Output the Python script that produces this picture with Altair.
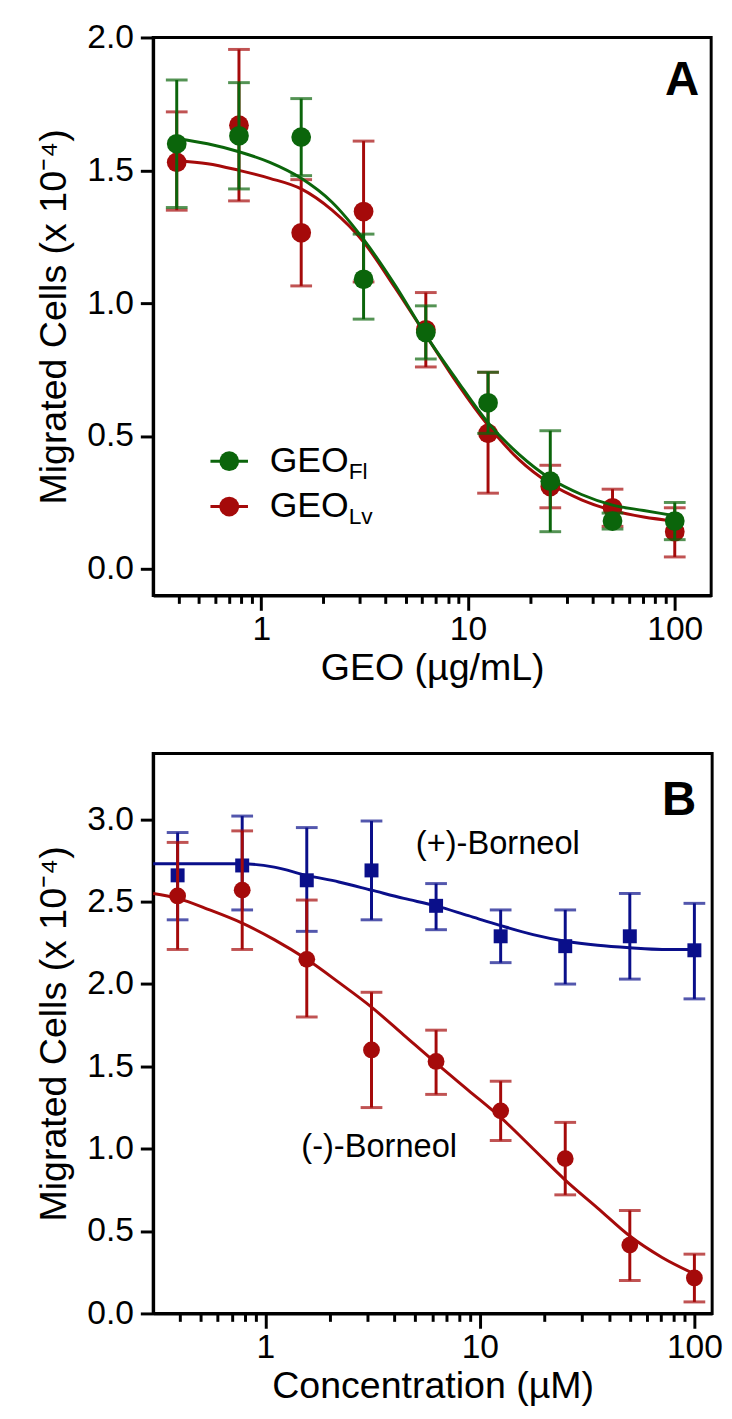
import altair as alt
import pandas as pd

# ---------------- data ----------------
conc = [0.39, 0.78, 1.56, 3.125, 6.25, 12.5, 25, 50, 100]

# Panel A : GEO_Fl (green) and GEO_Lv (red)
fl_mean = [1.60, 1.63, 1.625, 1.09, 0.89, 0.625, 0.33, 0.18, 0.18]
fl_hi = [1.84, 1.83, 1.77, 1.26, 0.99, 0.74, 0.52, 0.21, 0.25]
fl_lo = [1.36, 1.43, 1.48, 0.94, 0.79, 0.51, 0.14, 0.15, 0.11]

lv_mean = [1.53, 1.67, 1.265, 1.345, 0.90, 0.51, 0.31, 0.23, 0.14]
lv_hi = [1.72, 1.955, 1.465, 1.61, 1.04, 0.74, 0.39, 0.30, 0.23]
lv_lo = [1.35, 1.385, 1.065, 1.08, 0.76, 0.285, 0.23, 0.16, 0.045]

fit_x_a = [0.39, 0.55, 0.78, 1.1, 1.56, 2.2, 3.125, 4.42, 6.25, 8.84, 12.5, 17.7, 25, 35.4, 50, 70.7, 100]
fl_fit = [1.62, 1.60, 1.57, 1.53, 1.47, 1.38, 1.24, 1.07, 0.88, 0.71, 0.55, 0.43, 0.34, 0.28, 0.24, 0.22, 0.20]
lv_fit = [1.535, 1.525, 1.50, 1.47, 1.43, 1.35, 1.23, 1.06, 0.88, 0.70, 0.54, 0.41, 0.32, 0.26, 0.22, 0.195, 0.18]

# Panel B : (+)-Borneol (blue squares) and (-)-Borneol (red circles)
plus_mean = [2.66, 2.72, 2.63, 2.69, 2.475, 2.29, 2.23, 2.29, 2.205]
plus_hi = [2.92, 3.02, 2.95, 2.99, 2.61, 2.45, 2.45, 2.55, 2.49]
plus_lo = [2.39, 2.45, 2.32, 2.39, 2.33, 2.13, 2.00, 2.03, 1.91]

minus_mean = [2.535, 2.57, 2.15, 1.60, 1.53, 1.23, 0.94, 0.415, 0.215]
minus_hi = [2.86, 2.93, 2.51, 1.95, 1.72, 1.41, 1.16, 0.625, 0.36]
minus_lo = [2.21, 2.21, 1.80, 1.25, 1.33, 1.05, 0.72, 0.20, 0.07]

fit_x_b = [0.3, 0.39, 0.55, 0.78, 1.1, 1.56, 2.2, 3.125, 4.42, 6.25, 8.84, 12.5, 17.7, 25, 35.4, 50, 70.7, 100]
plus_fit = [2.73, 2.73, 2.73, 2.73, 2.71, 2.66, 2.62, 2.57, 2.52, 2.475, 2.415, 2.355, 2.30, 2.26, 2.235, 2.22, 2.21, 2.21]
minus_fit = [2.55, 2.52, 2.45, 2.37, 2.27, 2.15, 2.01, 1.86, 1.69, 1.52, 1.355, 1.19, 1.00, 0.81, 0.64, 0.47, 0.34, 0.24]

x_ticks_a = [0.4, 0.5, 0.6, 0.7, 0.8, 0.9, 1, 2, 3, 4, 5, 6, 7, 8, 9, 10,
             20, 30, 40, 50, 60, 70, 80, 90, 100]
x_ticks_b = x_ticks_a
y_ticks_a = [0.0, 0.5, 1.0, 1.5, 2.0]
y_ticks_b = [0.0, 0.5, 1.0, 1.5, 2.0, 2.5, 3.0]

GREEN = "#0b650b"
RED = "#a50a0a"
BLUE = "#0a0f8a"
FONT = "Liberation Sans"

W = 565
HA = 565
HB = 567

TICK_FS = 34
TITLE_FS = 38


def x_enc(field, domain, ticks, title):
    major = "datum.value == 1 || datum.value == 10 || datum.value == 100"
    return alt.X(
        f"{field}:Q",
        scale=alt.Scale(type="log", domain=domain, nice=False),
        axis=alt.Axis(
            values=ticks,
            title=title,
            labelExpr=f"({major}) ? format(datum.value, 'd') : ''",
            labelOverlap=False,
            labelFlush=False,
            tickSize={"condition": {"test": major, "value": 15}, "value": 8},
            tickWidth=3,
            domainWidth=3,
            domainColor="black",
            tickColor="black",
            labelFont=FONT,
            labelFontSize=TICK_FS,
            labelColor="black",
            labelPadding=3,
            titleFont=FONT,
            titleFontSize=TITLE_FS,
            titleFontWeight="normal",
            titleColor="black",
            titlePadding=3,
            grid=False,
        ),
    )


def y_enc(field, domain, ticks):
    return alt.Y(
        f"{field}:Q",
        scale=alt.Scale(domain=domain, nice=False, zero=False),
        axis=alt.Axis(
            values=ticks,
            format=".1f",
            title="Migrated Cells (x 10⁻⁴)",
            tickSize=13,
            tickWidth=3,
            domainWidth=3,
            domainColor="black",
            tickColor="black",
            labelFont=FONT,
            labelFontSize=TICK_FS,
            labelColor="black",
            labelPadding=7,
            titleFont=FONT,
            titleFontSize=TITLE_FS,
            titleFontWeight="normal",
            titleColor="black",
            titlePadding=14,
            grid=False,
        ),
    )


def series_layers(xs, mean, lo, hi, fx, fy, color, shape, size, xd, xt, xtitle, yd, yt):
    pts = pd.DataFrame({"x": xs, "m": mean, "lo": lo, "hi": hi})
    fit = pd.DataFrame({"x": fx, "m": fy})
    X = x_enc("x", xd, xt, xtitle)
    rule = alt.Chart(pts).mark_rule(color=color, strokeWidth=3).encode(
        x=X, y=y_enc("lo", yd, yt), y2="hi:Q")
    cap_hi = alt.Chart(pts).mark_tick(color=color, orient="horizontal", size=22, thickness=3).encode(
        x=X, y=y_enc("hi", yd, yt))
    cap_lo = alt.Chart(pts).mark_tick(color=color, orient="horizontal", size=22, thickness=3).encode(
        x=X, y=y_enc("lo", yd, yt))
    line = alt.Chart(fit).mark_line(color=color, strokeWidth=3, interpolate="monotone").encode(
        x=X, y=y_enc("m", yd, yt))
    point = alt.Chart(pts).mark_point(color=color, filled=True, opacity=1, shape=shape, size=size).encode(
        x=X, y=y_enc("m", yd, yt))
    return [rule, cap_hi, cap_lo, line, point]


# ---------------- Panel A ----------------
xdA = [0.3, 150]
ydA = [-0.1, 2.0]
xtitleA = "GEO (µg/mL)"
layersA = []
layersA += series_layers(conc, lv_mean, lv_lo, lv_hi, fit_x_a, lv_fit, RED, "circle", 400,
                         xdA, x_ticks_a, xtitleA, ydA, y_ticks_a)
layersA += series_layers(conc, fl_mean, fl_lo, fl_hi, fit_x_a, fl_fit, GREEN, "circle", 400,
                         xdA, x_ticks_a, xtitleA, ydA, y_ticks_a)

legend_items = [("GEO", "Fl", GREEN, 429), ("GEO", "Lv", RED, 475)]
for main, sub, col, yy in legend_items:
    d = pd.DataFrame({"main": [main], "sub": [sub]})
    layersA.append(alt.Chart(d).mark_rule(color=col, strokeWidth=3).encode(
        x=alt.value(58), x2=alt.value(96), y=alt.value(yy)))
    layersA.append(alt.Chart(d).mark_point(color=col, filled=True, opacity=1, shape="circle", size=400).encode(
        x=alt.value(77), y=alt.value(yy)))
    layersA.append(alt.Chart(d).mark_text(font=FONT, fontSize=36, align="left", baseline="middle", color="black").encode(
        x=alt.value(118), y=alt.value(yy), text="main:N"))
    layersA.append(alt.Chart(d).mark_text(font=FONT, fontSize=23, align="left", baseline="middle", color="black").encode(
        x=alt.value(198), y=alt.value(yy + 11), text="sub:N"))

panel_a_lbl = pd.DataFrame({"t": ["A"]})
layersA.append(alt.Chart(panel_a_lbl).mark_text(font=FONT, fontSize=48, fontWeight="bold", align="right",
                                                baseline="middle", color="black").encode(
    x=alt.value(553), y=alt.value(44), text="t:N"))

chartA = alt.layer(*layersA).properties(width=W, height=HA)

# ---------------- Panel B ----------------
xdB = [0.3, 121]
ydB = [0.0, 3.4]
xtitleB = "Concentration (µM)"
layersB = []
layersB += series_layers(conc, plus_mean, plus_lo, plus_hi, fit_x_b, plus_fit, BLUE, "square", 200,
                         xdB, x_ticks_b, xtitleB, ydB, y_ticks_b)
layersB += series_layers(conc, minus_mean, minus_lo, minus_hi, fit_x_b, minus_fit, RED, "circle", 290,
                         xdB, x_ticks_b, xtitleB, ydB, y_ticks_b)

ann = pd.DataFrame({"t": ["(+)-Borneol", "(-)-Borneol"]})
layersB.append(alt.Chart(ann).transform_filter("datum.t == '(+)-Borneol'").mark_text(
    font=FONT, fontSize=33, align="left", baseline="middle", color="black").encode(
    x=alt.value(266), y=alt.value(92), text="t:N"))
layersB.append(alt.Chart(ann).transform_filter("datum.t == '(-)-Borneol'").mark_text(
    font=FONT, fontSize=33, align="left", baseline="middle", color="black").encode(
    x=alt.value(150), y=alt.value(399), text="t:N"))

panel_b_lbl = pd.DataFrame({"t": ["B"]})
layersB.append(alt.Chart(panel_b_lbl).mark_text(font=FONT, fontSize=48, fontWeight="bold", align="right",
                                                baseline="middle", color="black").encode(
    x=alt.value(550), y=alt.value(48), text="t:N"))

chartB = alt.layer(*layersB).properties(width=W + 1, height=HB)

chart = alt.vconcat(chartA, chartB, spacing=63).properties(
    padding={"left": 26, "top": 2, "right": 0, "bottom": 0},
    background="white",
).configure_view(stroke="black", strokeWidth=3)

chart.save("out.html", embed_options={"renderer": "svg", "actions": False})
